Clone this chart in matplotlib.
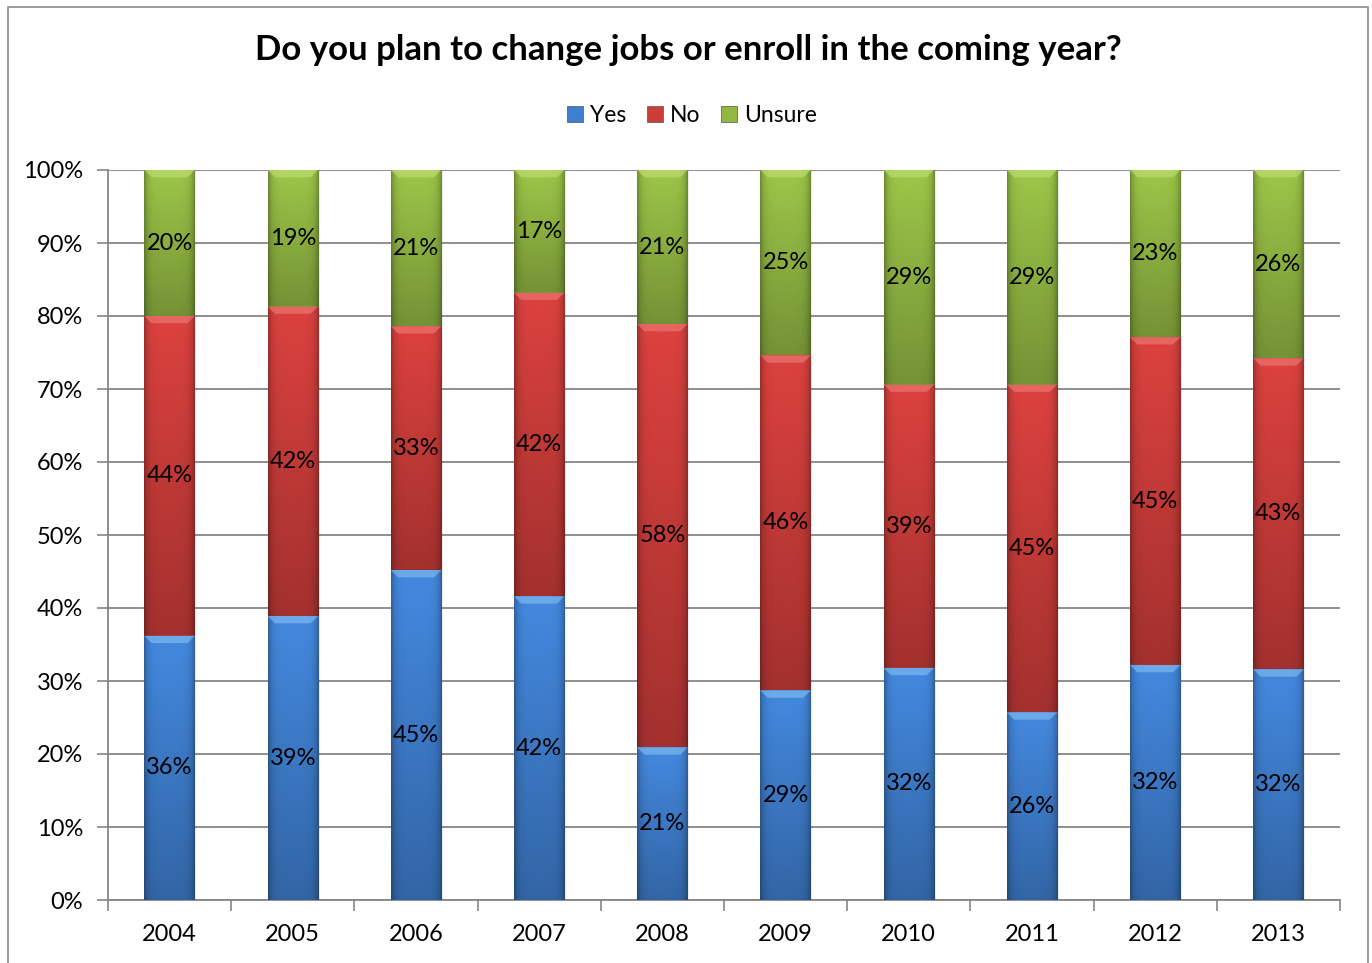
import numpy as np
import matplotlib
matplotlib.use('Agg')
from matplotlib import pyplot as plt
from matplotlib.patches import Polygon, Rectangle, Patch
from matplotlib.colors import to_rgb

plt.rcParams['font.family'] = ['Lato', 'DejaVu Sans']

years = ['2004', '2005', '2006', '2007', '2008', '2009', '2010', '2011', '2012', '2013']
yes = [36.2, 38.9, 45.2, 41.6, 20.9, 28.7, 31.8, 25.7, 32.2, 31.6]
no = [43.8, 42.4, 33.4, 41.6, 58.0, 45.9, 38.8, 44.9, 44.9, 42.6]
unsure = [20.0, 18.7, 21.4, 16.8, 21.1, 25.4, 29.4, 29.4, 22.9, 25.8]

series = [('Yes', yes), ('No', no), ('Unsure', unsure)]
# base fill, bevel highlight
colors = {'Yes': ('#3f7fcf', '#86c0f2'),
          'No': ('#cc3d3a', '#f07e7a'),
          'Unsure': ('#92b843', '#c4e07a')}

fig = plt.figure(figsize=(13.72, 9.63), dpi=100)
ax = fig.add_axes([108 / 1372, 1 - 900 / 963, (1340 - 108) / 1372, (900 - 170) / 963])

# outer chart frame
fig.patches.append(Rectangle((8 / 1372, -0.01), (1368 - 8) / 1372, 1 - 7 / 963 + 0.01,
                             transform=fig.transFigure, fill=False,
                             edgecolor='#8c8c8c', lw=1.2, zorder=0))

x = np.arange(len(years))
width = 0.41


def shade(base, nx=60, ny=200):
    # light at the top, darker at the bottom, shadowed along both sides
    u = np.linspace(0, 1, nx)
    v = np.linspace(0, 1, ny)[:, None]
    side = 1 - 0.30 * (np.exp(-u / 0.07) + np.exp(-(1 - u) / 0.07))
    fade = 1.08 - 0.28 * v
    rgb = np.array(to_rgb(base))
    img = rgb[None, None, :] * (side[None, :] * fade)[:, :, None]
    return np.clip(img, 0, 1)


bottom = np.zeros(len(years))
for name, vals in series:
    base, hi = colors[name]
    bars = ax.bar(x, vals, width, bottom=bottom, color=base, edgecolor='none',
                  label=name, zorder=2)
    img = shade(base)
    for rect, v, b in zip(bars, vals, bottom):
        x0 = rect.get_x()
        x1 = x0 + rect.get_width()
        top = b + v
        # soft drop shadow to the right
        ax.add_patch(Rectangle((x1, b), 0.012, v, facecolor='#000000', alpha=0.08,
                               edgecolor='none', zorder=1))
        im = ax.imshow(img, extent=(x0, x1, b, top), origin='upper',
                       aspect='auto', interpolation='bilinear', zorder=3)
        im.set_clip_path(rect)
        # bevelled top edge
        bx, by = 0.06, 1.0
        ax.add_patch(Polygon([(x0, top), (x1, top), (x1 - bx, top - by), (x0 + bx, top - by)],
                             closed=True, facecolor=hi, edgecolor='none', alpha=0.6, zorder=4))
        ax.text(rect.get_x() + rect.get_width() / 2, b + v / 2, f'{v:.0f}%',
                ha='center', va='center', fontsize=17, color='black', zorder=5)
    bottom = bottom + np.array(vals)

ax.set_xlim(-0.5, len(years) - 0.5)
ax.set_ylim(0, 100)

ax.set_yticks(np.arange(0, 101, 10))
ax.set_yticklabels([f'{t}%' for t in range(0, 101, 10)])
ax.set_xticks(x)
ax.set_xticklabels(years)
ax.set_xticks(np.arange(-0.5, len(years), 1), minor=True)
ax.tick_params(axis='x', which='major', length=0, labelsize=17, pad=17)
ax.tick_params(axis='x', which='minor', length=8, color='#868686', width=1.2, direction='out')
ax.tick_params(axis='y', length=8, color='#868686', width=1.2, labelsize=17, pad=10)

ax.grid(axis='y', color='#868686', lw=1.3, zorder=0)
ax.set_axisbelow(True)
for side in ['top', 'right']:
    ax.spines[side].set_visible(False)
for side in ['left', 'bottom']:
    ax.spines[side].set_color('#868686')
    ax.spines[side].set_linewidth(1.3)

fig.text(688 / 1372, 1 - 50 / 963, 'Do you plan to change jobs or enroll in the coming year?',
         ha='center', va='center', fontsize=25, fontweight='bold')

handles = [Patch(facecolor=colors[n][0], edgecolor='#555555', lw=0.5) for n, _ in series]
fig.legend(handles, [n for n, _ in series], loc='center', bbox_to_anchor=(692 / 1372, 1 - 116 / 963),
           ncol=3, frameon=False, fontsize=16.5, handlelength=0.7, handleheight=0.7,
           handletextpad=0.3, columnspacing=0.9)

plt.savefig('out.png', dpi=100)
